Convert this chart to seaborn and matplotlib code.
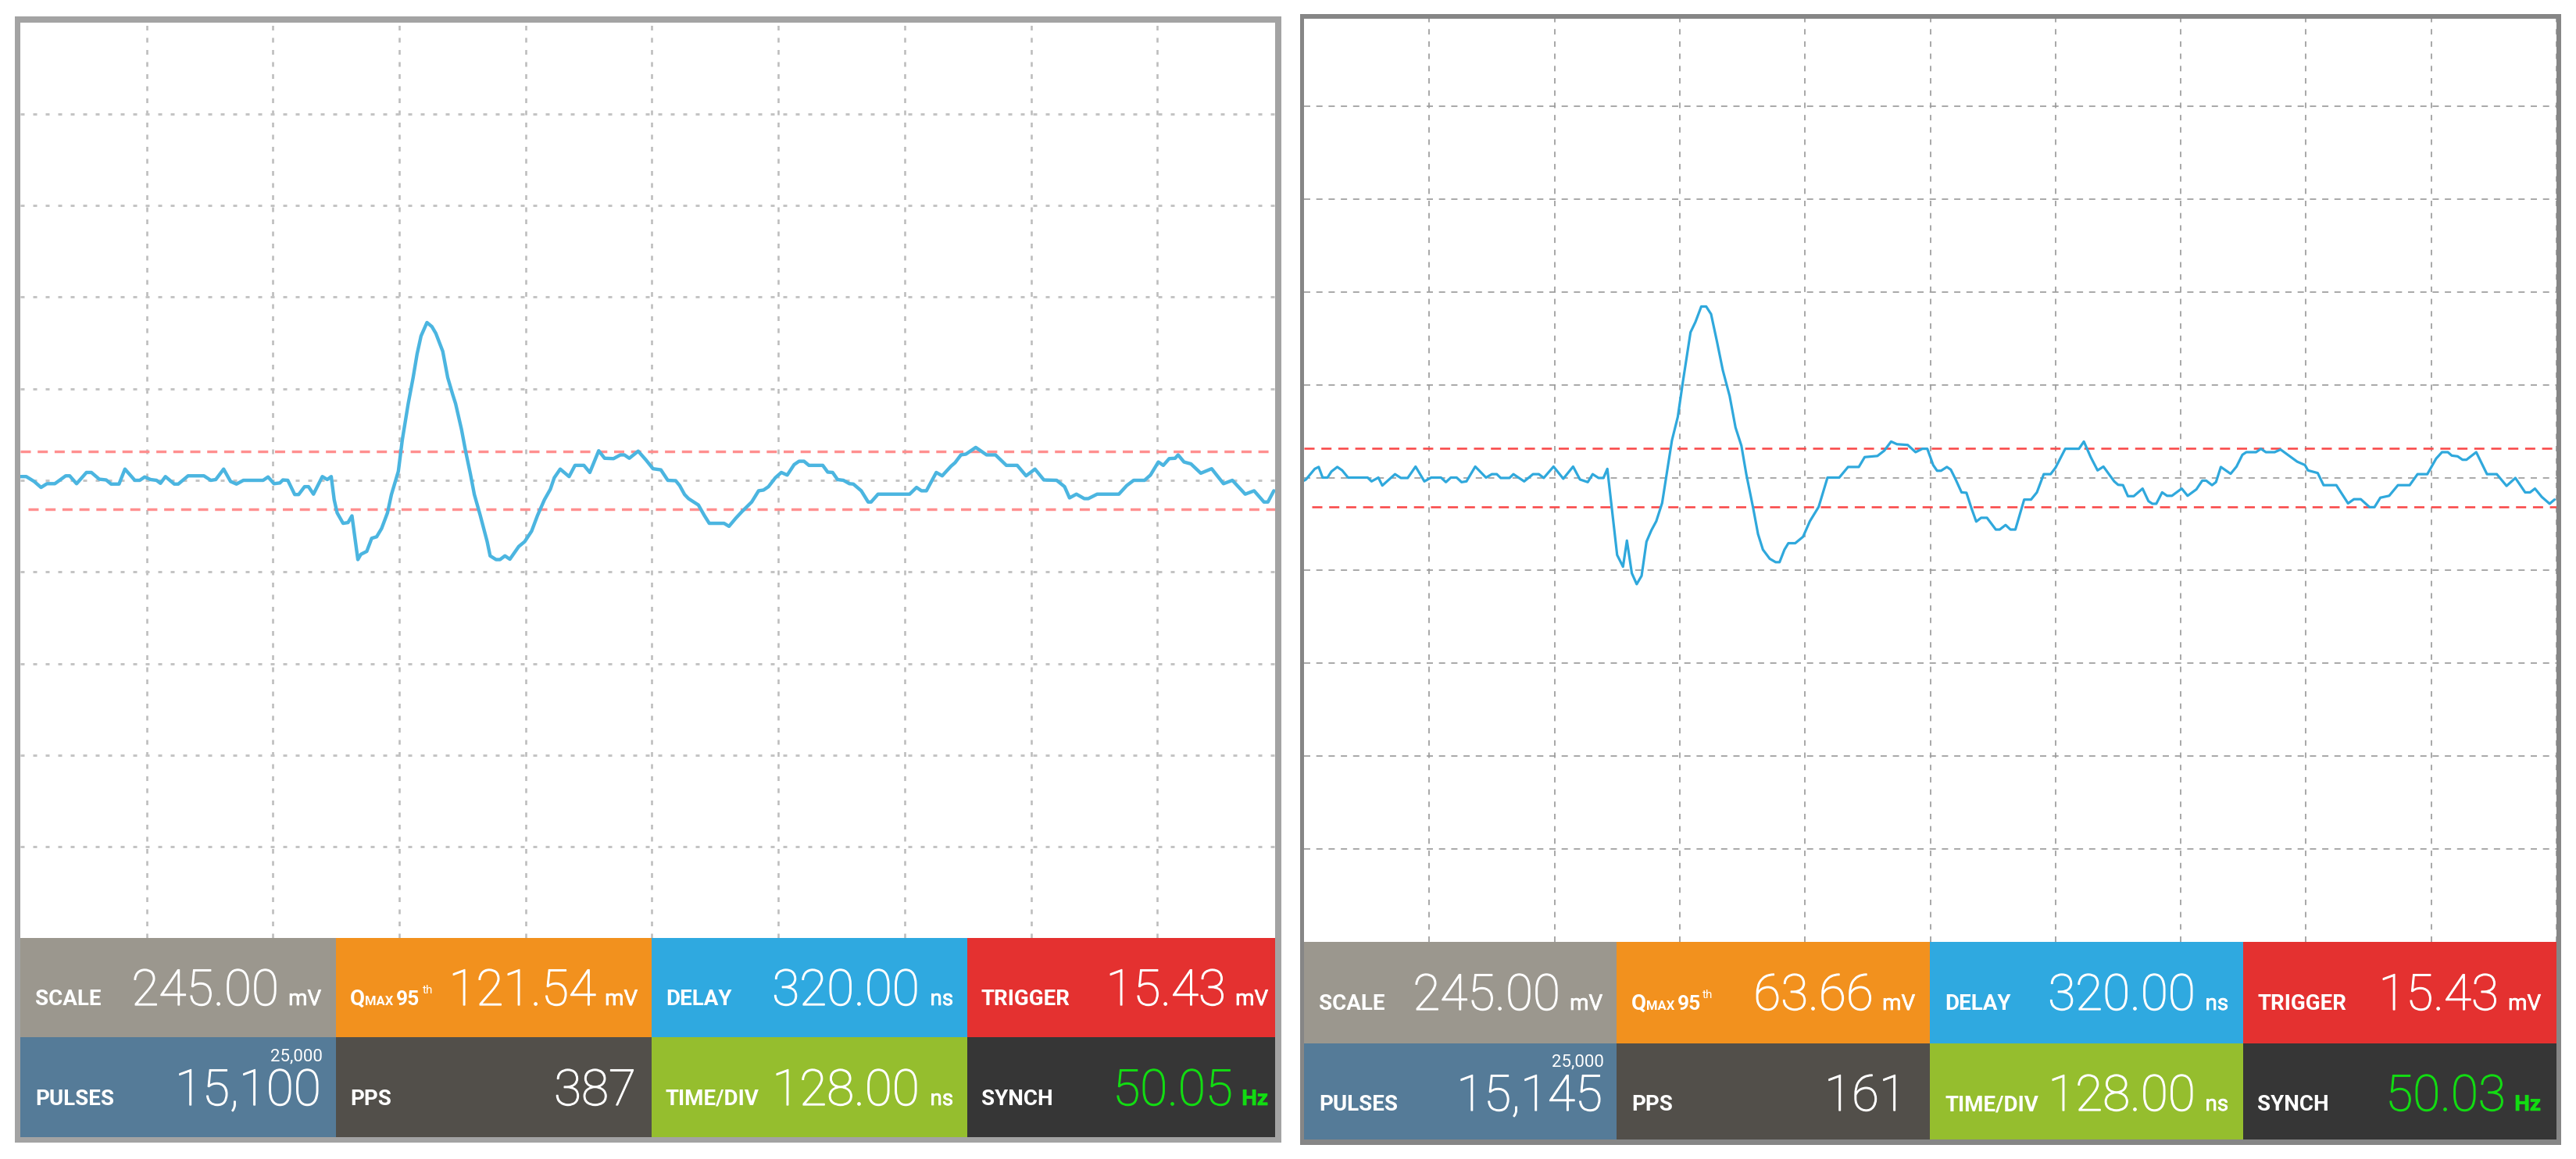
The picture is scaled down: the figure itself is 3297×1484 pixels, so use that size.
import numpy as np
import matplotlib
matplotlib.use("Agg")
import matplotlib.pyplot as plt
import matplotlib.patheffects as pe
from matplotlib.colors import ListedColormap
import seaborn as sns

# ---------- data: left screen ----------
left_time_ns = [0,6,14,21,27,35,46,50,57,67,72,80,87,92,100,106,116,121,126,132,138,142,147,156,160,170,186,193,198,206,213,219,226,246,251,257,263,266,271,278,282,288,292,297,306,311,315,318,321,327,332,336,342,345,351,356,361,366,372,376,383,387,393,398,402,406,412,417,421,428,433,438,441,447,451,456,460,466,473,476,482,486,491,496,505,511,518,524,531,537,541,547,556,562,571,577,586,592,601,608,612,617,626,634,641,649,
                656,664,668,673,677,687,693,698,713,718,725,731,741,748,753,758,765,771,777,784,789,794,799,813,818,823,828,834,840,844,852,859,862,869,901,908,913,918,928,934,943,947,953,958,968,979,988,999,1010,1019,1028,1037,1050,1058,1063,1070,1078,1082,1091,1113,1121,1128,1139,1145,1153,1158,1164,1170,1173,1179,1186,1196,1207,1219,1228,1241,1250,1260,1264,1270]
left_trace_mv = [10,10,-3,-19,-9,-9,12,12,-9,21,21,3,1,-10,-10,30,0,0,9,2,0,-8,10,-10,-10,12,12,0,2,30,-3,-10,0,0,9,-9,-7,1,0,-38,-38,-17,-17,-37,10,2,10,-52,-87,-115,-113,-95,-212,-198,-190,-155,-151,-129,-87,-38,24,108,205,275,338,386,422,411,393,345,275,230,205,136,80,17,-38,-94,-164,-202,-212,-212,-202,-211,-177,-164,-136,-94,-52,-24,7,30,10,40,40,21,79,59,58,68,68,59,78,54,31,28,
                 0,-1,-14,-38,-49,-66,-94,-115,-115,-123,-101,-84,-58,-28,-26,-17,7,21,14,42,51,51,40,40,22,21,2,0,-9,-10,-28,-58,-58,-37,-37,-19,-28,-28,21,12,38,47,68,70,88,68,68,40,40,12,30,1,0,-17,-47,-37,-49,-49,-37,-37,-14,0,0,14,49,40,58,59,68,49,44,19,31,-9,0,-37,-28,-58,-58,-28]

# ---------- data: right screen ----------
right_time_ns = [0,2,11,15,19,24,28,34,39,45,65,69,76,80,93,99,106,114,123,130,140,145,150,156,161,166,175,186,192,197,201,210,214,225,234,240,245,255,265,275,282,290,295,301,306,310,314,320,326,330,335,340,345,350,355,360,366,371,376,382,387,395,400,406,411,416,422,428,435,441,447,452,459,464,469,476,482,486,491,495,502,510,517,526,535,547,556,567,573,586,593,600,606,617,625,632,637,643,647,
                 651,657,661,666,672,677,682,687,692,698,707,711,717,722,727,736,743,749,756,763,768,778,792,797,804,811,817,828,832,837,842,848,857,863,867,871,877,882,887,897,903,912,918,922,928,932,937,947,953,959,963,973,978,983,992,998,1015,1023,1026,1036,1042,1055,1067,1073,1080,1089,1094,1100,1109,1118,1130,1138,1148,1157,1163,1169,1173,1179,1184,1188,1198,1209,1219,1229,1238,1248,1253,1258,1265,1273,1278]
right_trace_mv = [-8,-5,23,28,0,0,16,28,19,0,0,-10,0,-21,9,-1,-1,29,-10,0,0,-12,0,0,-12,-10,29,0,9,9,-1,-1,9,-10,9,9,-1,29,-3,29,-5,-12,9,-1,-1,23,-67,-204,-235,-166,-252,-281,-259,-169,-139,-115,-67,16,98,160,249,383,410,451,451,431,359,283,215,132,84,9,-80,-149,-190,-214,-223,-223,-190,-173,-173,-156,-115,-77,0,0,28,28,54,57,71,95,88,86,67,76,76,33,18,
                  18,28,21,-5,-39,-40,-80,-116,-106,-106,-137,-137,-125,-137,-137,-58,-58,-39,9,9,26,76,76,95,54,19,29,-10,-19,-20,-49,-49,-29,-62,-69,-69,-39,-48,-48,-29,-48,-31,-8,-8,-20,-12,28,10,29,60,67,67,76,67,67,74,42,33,19,12,-20,-20,-68,-57,-57,-78,-78,-53,-48,-20,-20,9,9,50,67,67,58,56,47,47,67,9,9,-22,-1,-39,-39,-29,-51,-69,-58]

# ---------- data: thresholds and read-outs ----------
left_threshold_mv = [77, -77]
right_threshold_mv = [78, -78]
time_per_div_ns = 128
scale_per_div_mv = 245
tile_colors = ["#9B978E", "#F2911E", "#2FA9E0", "#E43130",
               "#557B98", "#524F4A", "#95BE2E", "#363636"]
tile_labels = ["SCALE", "DELAY", "TRIGGER", "PULSES", "PPS", "TIME/DIV", "SYNCH"]
left_values = ["245.00", "121.54", "320.00", "15.43", "15,100", "387", "128.00", "50.05"]
right_values = ["245.00", "63.66", "320.00", "15.43", "15,145", "161", "128.00", "50.03"]
tile_units = ["mV", "mV", "ns", "mV", "", "", "ns", "Hz"]
pulse_limit = "25,000"

sns.set_theme(style="white")
plt.rcParams["font.family"] = ["Roboto", "DejaVu Sans"]
plt.rcParams["lines.scale_dashes"] = False

W, H = 3297, 1484
PX = 72 / 100  # points per output pixel
fig = plt.figure(figsize=(W / 100, H / 100), dpi=100, facecolor="white")


def box(l, t, r, b, **kw):
    ax = fig.add_axes([l / W, 1 - b / H, (r - l) / W, (b - t) / H], **kw)
    ax.set_xticks([]); ax.set_yticks([])
    for s in ax.spines.values():
        s.set_visible(False)
    return ax


def label(x, y, s, size=20, weight="bold", ha="left", color="white", stroke=0):
    txt = fig.text(x / W, 1 - y / H, s, fontsize=size, fontweight=weight, ha=ha,
                   va="baseline", color=color, zorder=5)
    if stroke:
        txt.set_path_effects([pe.withStroke(linewidth=stroke, foreground=color)])


def screen(outer, inner, tiles, col_edges, row_edges, border, t, v, thresholds,
           xmax, ytop, ybot, grid_h, grid_v, trace_color, trace_lw,
           red_color, red_lw, red_dash):
    box(*outer, facecolor=border)
    ax = box(*inner, facecolor="white")
    sns.lineplot(x=t, y=v, sort=False, estimator=None, errorbar=None,
                 color=trace_color, linewidth=trace_lw, ax=ax, zorder=4)
    ax.set_xlim(0, xmax)
    ax.set_ylim(ybot, ytop)
    ax.set_xticks(np.arange(1, int(xmax // time_per_div_ns) + 1) * time_per_div_ns)
    ax.set_yticks(np.arange(-4, 5) * scale_per_div_mv)
    ax.set_xticklabels([]); ax.set_yticklabels([])
    ax.set_xlabel(""); ax.set_ylabel("")
    ax.tick_params(length=0)
    ax.set_axisbelow(True)
    ax.grid(True, axis="y", **grid_h)
    ax.grid(True, axis="x", **grid_v)
    ax.axhline(thresholds[0], color=red_color, lw=red_lw, ls=red_dash, zorder=3)
    ax.axhline(thresholds[1], xmin=0.006, color=red_color, lw=red_lw, ls=red_dash, zorder=3)

    tx = box(*tiles)
    tx.pcolormesh(col_edges, row_edges, np.arange(8).reshape(2, 4),
                  cmap=ListedColormap(tile_colors), vmin=-0.5, vmax=7.5)
    tx.set_xlim(col_edges[0], col_edges[-1])
    tx.set_ylim(row_edges[-1], row_edges[0])
    tx.set_xticks([]); tx.set_yticks([])


# ---------- left screen ----------
screen(outer=(19, 21, 1640, 1463), inner=(26, 29, 1632, 1201), tiles=(26, 1201, 1632, 1456),
       col_edges=[26, 430, 834, 1238, 1632], row_edges=[1201, 1328, 1456], border="#A3A3A3",
       t=left_time_ns, v=left_trace_mv, thresholds=left_threshold_mv,
       xmax=1271.3, ytop=1224, ybot=-1224,
       grid_h=dict(color="#C4C4C4", lw=3 * PX, ls=(0, (5 * PX, 11 * PX))),
       grid_v=dict(color="#BDBDBD", lw=2.6 * PX, ls=(0, (6 * PX, 9.5 * PX))),
       trace_color="#4BB5E0", trace_lw=4.4 * PX,
       red_color="#FF8F8F", red_lw=3.4 * PX, red_dash=(0, (13 * PX, 8.7 * PX)))

# ---------- right screen ----------
screen(outer=(1664, 18, 3278, 1466), inner=(1669, 24, 3272, 1206), tiles=(1669, 1206, 3272, 1459),
       col_edges=[1669, 2069, 2470, 2871, 3272], row_edges=[1206, 1336, 1459], border="#868686",
       t=right_time_ns, v=right_trace_mv, thresholds=right_threshold_mv,
       xmax=1280, ytop=1209.6, ybot=-1224,
       grid_h=dict(color="#9C9C9C", lw=1.7 * PX, ls=(0, (8 * PX, 7.7 * PX))),
       grid_v=dict(color="#A0A0A0", lw=1.8 * PX, ls=(0, (7 * PX, 8.7 * PX))),
       trace_color="#2FA8DC", trace_lw=3.2 * PX,
       red_color="#F94A4A", red_lw=2.6 * PX, red_dash=(0, (13 * PX, 8.7 * PX)))


def readouts(values, label_x, value_right, unit_right, base_top, base_bot,
             q_x, limit_right, limit_base):
    num = 46
    # top row
    label(label_x[0], base_top, tile_labels[0])
    label(q_x[0], base_top, "Q"); label(q_x[1], base_top, "MAX", size=12)
    label(q_x[2], base_top, "95", size=19); label(q_x[3], base_top - 15, "th", size=11, weight="normal")
    label(label_x[2], base_top, tile_labels[1])
    label(label_x[3], base_top, tile_labels[2])
    # bottom row
    label(label_x[0], base_bot, tile_labels[3])
    label(label_x[1], base_bot, tile_labels[4])
    label(label_x[2], base_bot, tile_labels[5])
    label(label_x[3], base_bot, tile_labels[6])
    label(limit_right, limit_base, pulse_limit, size=16, weight="normal", ha="right")
    for i, val in enumerate(values):
        base = base_top if i < 4 else base_bot
        col = "#12DC12" if i == 7 else "white"
        label(value_right[i], base, val, size=num, weight="light", ha="right", color=col, stroke=0.9)
        if tile_units[i]:
            label(unit_right[i], base, tile_units[i], ha="right", color=col,
                  weight="bold" if i == 7 else "normal", stroke=0.5)


readouts(left_values,
         label_x=[45, 448, 852, 1256],
         value_right=[357, 763, 1177, 1569, 411, 814, 1177, 1578],
         unit_right=[411, 816, 1220, 1623, 0, 0, 1220, 1623],
         base_top=1287, base_bot=1415, q_x=[448, 467, 507, 541],
         limit_right=413, limit_base=1358)
readouts(right_values,
         label_x=[1688, 2088, 2489, 2889],
         value_right=[1997, 2398, 2810, 3198, 2051, 2440, 2810, 3207],
         unit_right=[2051, 2451, 2852, 3252, 0, 0, 2852, 3252],
         base_top=1293, base_bot=1422, q_x=[2088, 2107, 2147, 2179],
         limit_right=2053, limit_base=1365)

fig.savefig("out.png", dpi=100)
